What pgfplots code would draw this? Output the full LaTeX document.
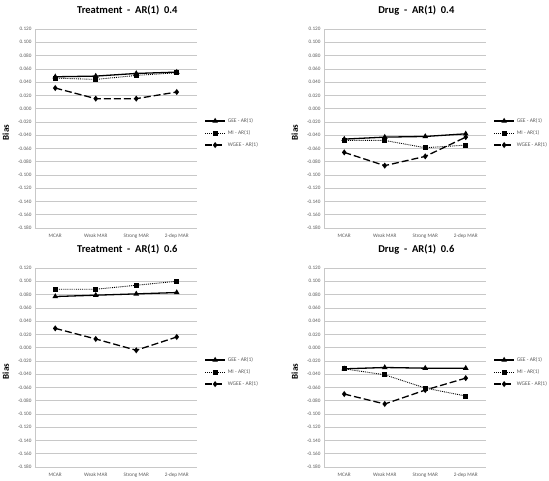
\documentclass[border=0pt]{standalone}
\usepackage{pgfplots}
\usepackage{pgfplotstable}
\pgfplotsset{compat=1.18}
\usepackage{fontspec}
\setmainfont{Carlito}
\definecolor{gridc}{RGB}{200,200,200}
\definecolor{tickc}{RGB}{90,90,90}

\pgfplotstableread{
x gee mi wgee
0 0.048 0.046 0.031
1 0.049 0.044 0.015
2 0.053 0.050 0.015
3 0.055 0.054 0.025
}\tA
\pgfplotstableread{
x gee mi wgee
0 -0.046 -0.048 -0.066
1 -0.043 -0.048 -0.086
2 -0.042 -0.059 -0.072
3 -0.038 -0.055 -0.043
}\tB
\pgfplotstableread{
x gee mi wgee
0 0.077 0.088 0.029
1 0.079 0.088 0.013
2 0.081 0.094 -0.004
3 0.083 0.100 0.016
}\tC
\pgfplotstableread{
x gee mi wgee
0 -0.032 -0.032 -0.070
1 -0.030 -0.041 -0.085
2 -0.031 -0.061 -0.064
3 -0.031 -0.073 -0.046
}\tD

\pgfplotsset{
  panel/.style={
    scale only axis, width=162pt, height=199pt,
    xmin=-0.5, xmax=3.5, ymin=-0.18, ymax=0.12,
    ytick={-0.18,-0.16,...,0.121},
    xtick={0,1,2,3},
    xticklabels={MCAR, Weak MAR, Strong MAR, 2-dep MAR},
    axis x line*=bottom, axis y line*=left,
    axis line style={gridc, -},
    major tick length=0pt,
    ymajorgrids, grid style={gridc, line width=0.6pt},
    ticklabel style={font=\fontsize{5.2}{6}\selectfont, text=tickc},
    yticklabel style={/pgf/number format/.cd, fixed, fixed zerofill, precision=3, assume math mode=true},
    xticklabel style={anchor=north, text height=1.5ex, text depth=0.3ex, inner sep=1pt, yshift=-1.5pt},
    ylabel={Bias},
    ylabel style={font=\fontsize{9}{10}\selectfont\bfseries, at={(axis description cs:-0.18,0.48)}, anchor=center},
    title style={font=\fontsize{10.5}{12}\selectfont\bfseries, at={(axis description cs:0.57,1.02)}, anchor=south},
    legend style={at={(axis description cs:1.045,0.477)}, anchor=west, draw=none, fill=none,
      font=\fontsize{5.5}{6.5}\selectfont, text=tickc, row sep=2.5pt, inner sep=0pt, legend cell align=left},
    legend image code/.code={
      \draw[##1] (0pt,0pt) -- (10pt,0pt) -- (20pt,0pt);
      \draw[##1, only marks] plot coordinates {(10pt,0pt)};
    },
    every axis plot/.append style={black},
  },
  geeS/.style={line width=1.3pt, mark=triangle*, mark size=2pt, mark options={solid}},
  miS/.style={line width=0.9pt, densely dotted, mark=square*, mark size=2pt, mark options={solid}},
  wgS/.style={line width=1.3pt, dash pattern=on 7pt off 3pt, mark=diamond*, mark size=2pt, mark options={solid}},
}

\newcommand{\panel}[4]{%
\begin{axis}[panel, at={(#1pt,-#2pt)}, anchor=north west, title={#3}]
\addplot[geeS] table[x=x,y=gee]{#4};
\addplot[miS] table[x=x,y=mi]{#4};
\addplot[wgS] table[x=x,y=wgee]{#4};
\legend{GEE - AR(1), MI - AR(1), WGEE - AR(1)}
\end{axis}}

\begin{document}
\begin{tikzpicture}
\useasboundingbox (0,0) rectangle (549pt,-480pt);
\panel{35}{29}{Treatment \ - \ AR(1) \ 0.4}{\tA}
\panel{324}{29}{Drug \ - \ AR(1) \ 0.4}{\tB}
\panel{35}{268}{Treatment \ - \ AR(1) \ 0.6}{\tC}
\panel{324}{268}{Drug \ - \ AR(1) \ 0.6}{\tD}
\end{tikzpicture}
\end{document}
